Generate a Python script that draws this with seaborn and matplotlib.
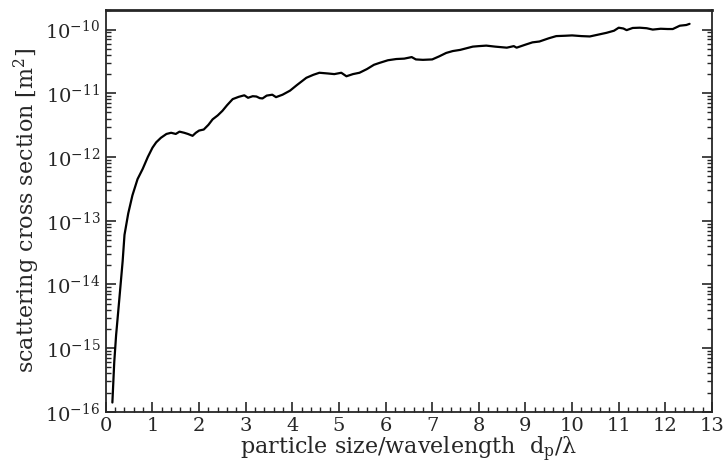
import numpy as np
import pandas as pd
import seaborn as sns
import matplotlib
matplotlib.use("Agg")
import matplotlib.pyplot as plt
from matplotlib.ticker import FixedLocator, LogLocator, FuncFormatter, MultipleLocator, NullFormatter

size_ratio = [0.14, 0.18, 0.22, 0.29, 0.36, 0.40, 0.48, 0.57, 0.68, 0.79, 0.90, 1.00, 1.08, 1.18,
              1.30, 1.40, 1.50, 1.58, 1.68, 1.76, 1.86, 1.93, 2.00, 2.10, 2.20, 2.29, 2.40, 2.50,
              2.60, 2.72, 2.85, 2.97, 3.05, 3.15, 3.23, 3.30, 3.36, 3.45, 3.57, 3.65, 3.79, 3.95,
              4.10, 4.30, 4.45, 4.58, 4.75, 4.90, 5.05, 5.16, 5.30, 5.44, 5.60, 5.75, 5.87, 6.05,
              6.23, 6.40, 6.56, 6.65, 6.80, 7.00, 7.15, 7.30, 7.44, 7.60, 7.87, 8.00, 8.16, 8.35,
              8.60, 8.75, 8.81, 9.00, 9.15, 9.30, 9.50, 9.66, 9.85, 10.00, 10.20, 10.38, 10.55,
              10.74, 10.90, 11.00, 11.10, 11.17, 11.30, 11.45, 11.60, 11.73, 11.90, 12.05, 12.16,
              12.31, 12.45, 12.52]
cross_section = [1.4e-16, 6e-16, 1.6e-15, 6e-15, 2.3e-14, 6e-14, 1.3e-13, 2.5e-13, 4.5e-13, 6.5e-13,
                 1.0e-12, 1.4e-12, 1.7e-12, 2.0e-12, 2.3e-12, 2.4e-12, 2.3e-12, 2.5e-12, 2.4e-12,
                 2.3e-12, 2.15e-12, 2.4e-12, 2.6e-12, 2.7e-12, 3.2e-12, 3.9e-12, 4.5e-12, 5.3e-12,
                 6.5e-12, 8.1e-12, 8.8e-12, 9.3e-12, 8.5e-12, 9.0e-12, 8.9e-12, 8.4e-12, 8.3e-12,
                 9.2e-12, 9.5e-12, 8.7e-12, 9.5e-12, 1.1e-11, 1.35e-11, 1.75e-11, 1.95e-11, 2.1e-11,
                 2.05e-11, 2.0e-11, 2.1e-11, 1.85e-11, 2.0e-11, 2.1e-11, 2.4e-11, 2.8e-11, 3.0e-11,
                 3.3e-11, 3.45e-11, 3.5e-11, 3.7e-11, 3.4e-11, 3.35e-11, 3.4e-11, 3.8e-11, 4.3e-11,
                 4.6e-11, 4.8e-11, 5.4e-11, 5.5e-11, 5.6e-11, 5.4e-11, 5.2e-11, 5.5e-11, 5.2e-11,
                 5.8e-11, 6.3e-11, 6.5e-11, 7.3e-11, 7.9e-11, 8.0e-11, 8.1e-11, 7.9e-11, 7.8e-11,
                 8.3e-11, 8.9e-11, 9.6e-11, 1.07e-10, 1.04e-10, 9.8e-11, 1.06e-10, 1.07e-10, 1.05e-10,
                 1.0e-10, 1.03e-10, 1.02e-10, 1.02e-10, 1.15e-10, 1.18e-10, 1.23e-10]

x_ticks = list(range(0, 14))
y_exponents = [-16, -15, -14, -13, -12, -11, -10]

sns.set_style("ticks")
plt.rcParams['font.family'] = ['DejaVu Serif']
plt.rcParams['mathtext.fontset'] = 'dejavuserif'

fig = plt.figure(figsize=(7.25, 4.68), dpi=100)
ax = fig.add_axes([0.146, 0.120, 0.836, 0.859])

df = pd.DataFrame({"x": size_ratio, "y": cross_section})
sns.lineplot(data=df, x="x", y="y", ax=ax, color="black", linewidth=1.6)

ax.set_yscale("log")
ax.set_xlim(0, 13)
ax.set_ylim(1e-16, 10 ** -9.69)

ax.xaxis.set_major_locator(FixedLocator(x_ticks))
ax.xaxis.set_minor_locator(MultipleLocator(0.2))
ax.yaxis.set_major_locator(FixedLocator([10.0 ** e for e in y_exponents]))
ax.yaxis.set_minor_locator(LogLocator(base=10, subs=np.arange(2, 10)))
ax.yaxis.set_minor_formatter(NullFormatter())
ax.yaxis.set_major_formatter(FuncFormatter(lambda v, p: r'$10^{%d}$' % int(round(np.log10(v)))))

ax.tick_params(axis='both', which='major', direction='in', length=7, width=1.2,
               labelsize=14, right=True, top=False, pad=4)
ax.tick_params(axis='both', which='minor', direction='in', length=3.5, width=1.0,
               right=True, top=False)
for sp in ax.spines.values():
    sp.set_linewidth(1.3)
ax.spines['top'].set_linewidth(2.0)

ax.set_xlabel(r"particle size/wavelength  d$_\mathrm{p}$/λ", fontsize=16, labelpad=0)
ax.set_ylabel(r"scattering cross section [m$^2$]", fontsize=16, labelpad=2)

fig.savefig("out.png", dpi=100)
